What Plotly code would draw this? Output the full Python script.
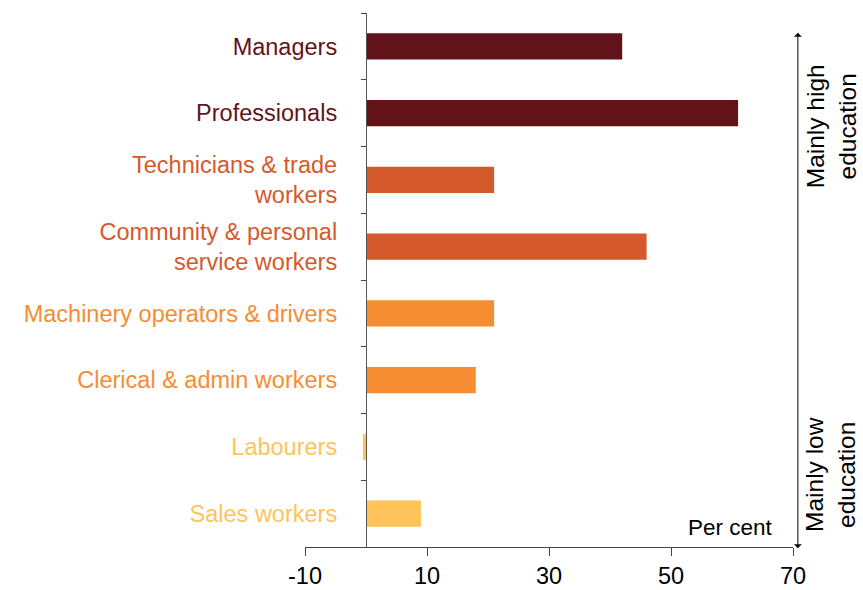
import plotly.graph_objects as go

categories = ["Sales workers", "Labourers", "Clerical & admin workers",
              "Machinery operators & drivers", "Community & personal<br>service workers",
              "Technicians & trade<br>workers", "Professionals", "Managers"]
values = [9, -0.5, 18, 21, 46, 21, 61, 42]
colors = ["#FFC35A", "#FFC35A", "#F68D33", "#F68D33", "#D55A2B", "#D55A2B", "#62131A", "#62131A"]
x_ticks = [-10, 10, 30, 50, 70]
x_tick_text = ["-10", "10", "30", "50", "70"]

FONT = "Liberation Sans, Arial, sans-serif"

labels = [f'<span style="color:{c}">{t}</span>' for t, c in zip(categories, colors)]

fig = go.Figure(go.Bar(
    x=values, y=labels, orientation="h",
    marker=dict(color=colors, line=dict(width=0)),
    width=0.39,
))

fig.update_layout(
    width=863, height=590,
    margin=dict(l=305, r=70, t=13, b=43),
    paper_bgcolor="white", plot_bgcolor="white",
    showlegend=False,
    font=dict(family=FONT, size=23, color="black"),
    xaxis=dict(
        range=[-10, 70], tickvals=x_ticks, ticktext=x_tick_text,
        ticks="outside", ticklen=8,
        tickcolor="#444", tickwidth=1.3,
        showline=True, linecolor="#444", linewidth=1.3,
        showgrid=False, zeroline=False, automargin=False,
        tickfont=dict(size=23.5, color="black"),
    ),
    yaxis=dict(
        type="category", range=[-0.5, 7.5],
        anchor="free", position=0.125,
        ticks="outside", ticklen=5, tickson="boundaries",
        tickcolor="#444", tickwidth=1.3,
        showline=True, linecolor="#555", linewidth=1.3,
        showgrid=False, zeroline=False, automargin=False,
        ticklabelstandoff=24,
        tickfont=dict(size=23.5),
    ),
    annotations=[
        dict(text="Per cent", x=0.963, y=0.036, xref="paper", yref="paper",
             xanchor="right", yanchor="middle", showarrow=False,
             font=dict(size=22.5, color="black")),
        dict(text="Mainly high<br>education", x=1.078, y=0.788, xref="paper", yref="paper",
             textangle=-90, showarrow=False, xanchor="center", yanchor="middle",
             font=dict(size=24.5, color="black")),
        dict(text="Mainly low<br>education", x=1.078, y=0.135, xref="paper", yref="paper",
             textangle=-90, showarrow=False, xanchor="center", yanchor="middle",
             font=dict(size=24.5, color="black")),
        dict(text="", x=1.01, y=0.963, xref="paper", yref="paper",
             axref="pixel", ayref="pixel", ax=0, ay=517,
             showarrow=True, arrowhead=1, startarrowhead=1, arrowside="end+start",
             arrowsize=1.3, startarrowsize=1.3, arrowwidth=1, arrowcolor="black"),
    ],
)

fig.write_html("out.html", config={"displayModeBar": False},
               post_script="document.body.style.margin='0';document.body.style.overflow='hidden';")
